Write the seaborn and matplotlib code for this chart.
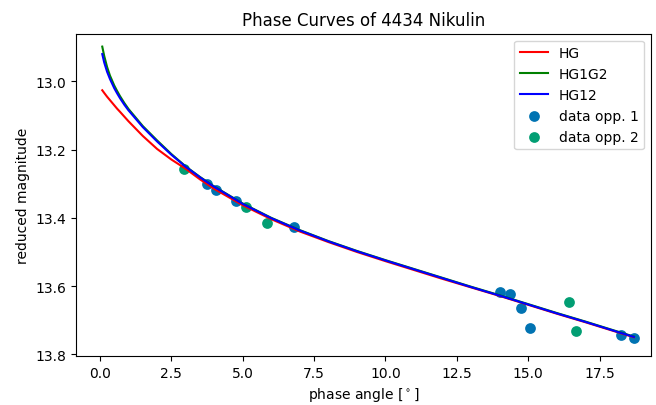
import matplotlib
matplotlib.use("Agg")
import matplotlib.pyplot as plt
import seaborn as sns

# Model curves
curve_alpha = [0.08, 0.15, 0.25, 0.35, 0.5, 0.6, 0.7, 0.85, 1.0, 1.5, 2.0, 2.5, 3.0, 3.5,
               4.0, 5.0, 6.0, 7.0, 8.0, 9.0, 10.0, 11.0, 12.0, 13.0, 14.0, 15.0, 16.0, 17.0, 18.0, 18.7]
hg_mag = [13.026, 13.034, 13.045, 13.055, 13.070, 13.080, 13.089, 13.103, 13.117, 13.160,
          13.198, 13.229, 13.256, 13.287, 13.315, 13.363, 13.404, 13.440, 13.471, 13.500,
          13.527, 13.553, 13.579, 13.604, 13.629, 13.655, 13.681, 13.706, 13.732, 13.750]
hg1g2_mag = [12.898, 12.926, 12.958, 12.983, 13.012, 13.028, 13.043, 13.063, 13.081, 13.131,
             13.173, 13.213, 13.249, 13.280, 13.308, 13.358, 13.400, 13.436, 13.468, 13.497,
             13.524, 13.550, 13.576, 13.602, 13.627, 13.653, 13.679, 13.704, 13.730, 13.748]
hg12_mag = [12.920, 12.945, 12.972, 12.993, 13.020, 13.035, 13.049, 13.068, 13.085, 13.134,
            13.176, 13.215, 13.250, 13.281, 13.309, 13.359, 13.401, 13.437, 13.469, 13.498,
            13.525, 13.551, 13.577, 13.603, 13.628, 13.654, 13.680, 13.705, 13.731, 13.749]

# Observations
opp1_alpha = [3.75, 4.06, 4.78, 6.79, 14.01, 14.37, 14.73, 15.07, 18.25, 18.72]
opp1_mag   = [13.302, 13.318, 13.350, 13.428, 13.616, 13.623, 13.664, 13.723, 13.742, 13.752]
opp2_alpha = [2.95, 5.10, 5.85, 16.43, 16.67]
opp2_mag   = [13.256, 13.368, 13.416, 13.648, 13.732]

title = "Phase Curves of 4434 Nikulin"
xlabel = "phase angle [$^\\circ$]"
ylabel = "reduced magnitude"

cb = sns.color_palette("colorblind")

fig = plt.figure(figsize=(6.56, 4.06), dpi=100)
ax = fig.add_axes([0.1154, 0.1207, 0.877, 0.794])

sns.lineplot(x=curve_alpha, y=hg_mag, color="red", label="HG", ax=ax, linewidth=1.5, sort=False)
sns.lineplot(x=curve_alpha, y=hg1g2_mag, color="green", label="HG1G2", ax=ax, linewidth=1.5, sort=False)
sns.lineplot(x=curve_alpha, y=hg12_mag, color="blue", label="HG12", ax=ax, linewidth=1.5, sort=False)
sns.scatterplot(x=opp1_alpha, y=opp1_mag, color=cb[0], label="data opp. 1", ax=ax, s=60, linewidth=0)
sns.scatterplot(x=opp2_alpha, y=opp2_mag, color=cb[2], label="data opp. 2", ax=ax, s=60, linewidth=0)

ax.set_xlim(-0.85, 19.3)
ax.set_ylim(13.805, 12.86)
ax.set_title(title, fontsize=12)
ax.set_xlabel(xlabel)
ax.set_ylabel(ylabel)
ax.legend(loc="upper right")

fig.savefig("out.png", dpi=100)
